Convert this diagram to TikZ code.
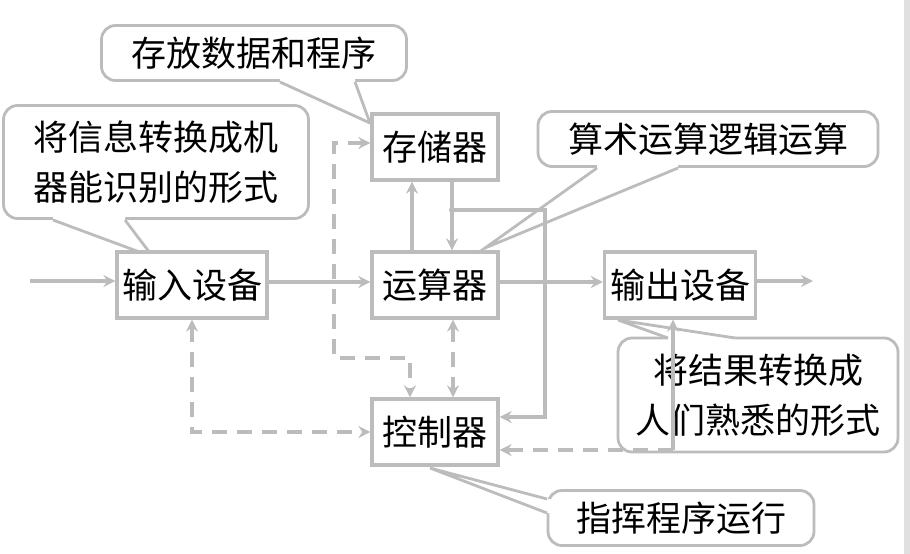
\documentclass[tikz,border=0pt]{standalone}
\usepackage{fontspec}
\newfontfamily\cjk{Noto Sans CJK SC}
\usetikzlibrary{arrows.meta,calc}

\definecolor{linegray}{RGB}{188,188,188}

\tikzset{
  unit/.style={rectangle, draw=linegray, line width=3.2pt, fill=white, minimum height=66pt, inner sep=2pt, font=\cjk\fontsize{35}{40}\selectfont},
  note/.style={rectangle, draw=linegray, line width=2.8pt, rounded corners=14pt, fill=white, align=center, inner sep=2pt, font=\cjk\fontsize{35}{50}\selectfont},
  flow/.style={draw=linegray, line width=3.2pt},
  ctrl/.style={flow, dash pattern=on 15pt off 10pt},
}

% tail of a callout: two base points, tip, shift into the box
\newcommand\notetail[4]{%
  \fill[white] ($#1+#4$) -- #1 -- #3 -- #2 -- ($#2+#4$) -- cycle;
  \draw[linegray, line width=2.8pt] #1 -- #3 -- #2;}

\begin{document}
\begin{tikzpicture}[x=1pt, y=-1pt, >={Stealth[length=12pt,width=12pt]}]
        \useasboundingbox (0,0) rectangle (910,554);
        \fill[black!12] (904,0) rectangle (910,554);

        % Callouts
        \node (memnote) [note, minimum width=305pt, minimum height=55pt] at (254,53) {存放数据和程序};
        \notetail{(280,82)}{(355,82)}{(370,123)}{(0,-4)}
        \node (innote) [note, minimum width=305pt, minimum height=113pt] at (156,162) {将信息转换成机\\器能识别的形式};
        \notetail{(53,220)}{(125,220)}{(153,257)}{(0,-4)}
        \node (alunote) [note, minimum width=340pt, minimum height=55pt] at (708,139) {算术运算逻辑运算};
        \notetail{(597,168)}{(678,168)}{(485,248)}{(0,-4)}
        \node (outnote) [note, minimum width=280pt, minimum height=114pt] at (758,395) {将结果转换成\\人们熟悉的形式};
        \notetail{(668,338)}{(735,338)}{(618,320)}{(0,4)}
        \node (ctlnote) [note, minimum width=266pt, minimum height=55pt] at (681,518) {指挥程序运行};
        \notetail{(547,499)}{(547,513)}{(430,468)}{(4,0)}

        % Units
        \node (alu) [unit, minimum width=126pt] at (435,285) {运算器};
        \node (inp) [unit, minimum width=150pt, left of=alu, node distance=243pt] {输入设备};
        \node (outd) [unit, minimum width=151pt, right of=alu, node distance=245pt] {输出设备};
        \node (mem) [unit, minimum width=126pt, above of=alu, node distance=138pt] {存储器};
        \node (ctl) [unit, minimum width=126pt, below of=alu, node distance=147pt] {控制器};

        % Points
        \coordinate (src) at (30,281);
        \coordinate (snk) at (813,281);
        \coordinate (upx) at (412,0);
        \coordinate (jn) at (452,210);
        \coordinate (rt) at (545,417);
        \coordinate (lp) at (334,358);
        \coordinate (cx) at (410,0);
        \coordinate (dx) at (453,0);
        \coordinate (bend) at (673,450);

        % Data arrows
        \draw[flow,->] (src) -- (src -| inp.west);
        \draw[flow,->] ([yshift=3pt]inp.east) -- ([yshift=3pt]alu.west);
        \draw[flow,->] ([yshift=3pt]alu.east) -- ([yshift=3pt]outd.west);
        \draw[flow,->] (snk -| outd.east) -- (snk);
        \draw[flow,->] (alu.north -| upx) -- (mem.south -| upx);
        \draw[flow,->] (mem.south -| jn) -- (alu.north -| jn);
        \fill[linegray] (jn) circle (3pt);
        \draw[flow,->] (jn) -| (rt) -- (rt -| ctl.east);

        % Control arrows
        \draw[ctrl,<->] ([yshift=4pt]mem.west) -| (lp) -| (ctl.north -| cx);
        \draw[ctrl,<->] (alu.south -| dx) -- (ctl.north -| dx);
        \draw[ctrl,<->] (inp.south) |- (ctl.west);
        \draw[ctrl,->] (bend) -- (bend -| ctl.east);
        \draw[flow,->] (bend) -- (bend |- outd.south);
\end{tikzpicture}
\end{document}
